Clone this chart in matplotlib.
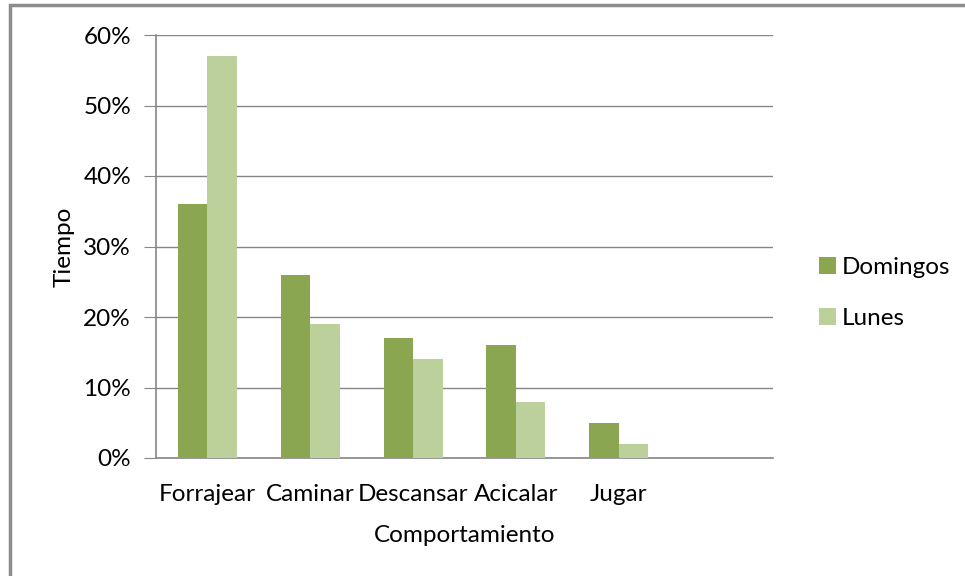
import matplotlib.pyplot as plt
import numpy as np
from matplotlib.patches import Rectangle
from matplotlib.ticker import FuncFormatter

categories = ["Forrajear", "Caminar", "Descansar", "Acicalar", "Jugar", ""]
domingos = [36, 26, 17, 16, 5, 0]
lunes = [57, 19, 14, 8, 2, 0]
y_ticks = [0, 10, 20, 30, 40, 50, 60]

dark_green = "#8AA650"
light_green = "#BBD09A"
grid_gray = "#868686"
fs = 17.5

plt.rcParams["font.family"] = ["Lato", "DejaVu Sans"]

fig = plt.figure(figsize=(9.65, 5.76), dpi=100)
ax = fig.add_axes([156 / 965, 1 - 458 / 576, 617 / 965, 423 / 576])

x = np.arange(len(categories))
width = 0.287
ax.bar(x - width / 2, domingos, width, color=dark_green, label="Domingos", zorder=3)
ax.bar(x + width / 2, lunes, width, color=light_green, label="Lunes", zorder=3)

ax.set_xlim(-0.5, len(categories) - 0.5)
ax.set_ylim(0, 60)
ax.set_yticks(y_ticks)
ax.yaxis.set_major_formatter(FuncFormatter(lambda v, _: f"{v:.0f}%"))
ax.set_xticks(x)
ax.set_xticklabels(categories)
ax.grid(axis="y", color=grid_gray, linewidth=1, zorder=0)

for side in ("top", "right"):
    ax.spines[side].set_visible(False)
for side in ("left", "bottom"):
    ax.spines[side].set_color(grid_gray)
    ax.spines[side].set_linewidth(1.2)

ax.tick_params(axis="y", length=9, color=grid_gray, labelsize=fs, pad=9)
ax.tick_params(axis="x", length=0, labelsize=fs, pad=19)

ax.set_ylabel("Tiempo", fontsize=fs, labelpad=6)
ax.set_xlabel("Comportamiento", fontsize=fs, labelpad=14)

ax.legend(
    loc="center left", bbox_to_anchor=(1.055, 0.39), frameon=False,
    fontsize=fs, handlelength=0.7, handleheight=0.7, handletextpad=0.25,
    labelspacing=1.25, borderpad=0,
)

# outer chart frame
fig.patches.append(Rectangle((10 / 965, -0.05), 1.2, 1.05 - 5 / 576,
                             transform=fig.transFigure, fill=False,
                             edgecolor="#8C8C8C", linewidth=2.5))

fig.savefig("out.png", dpi=100)
